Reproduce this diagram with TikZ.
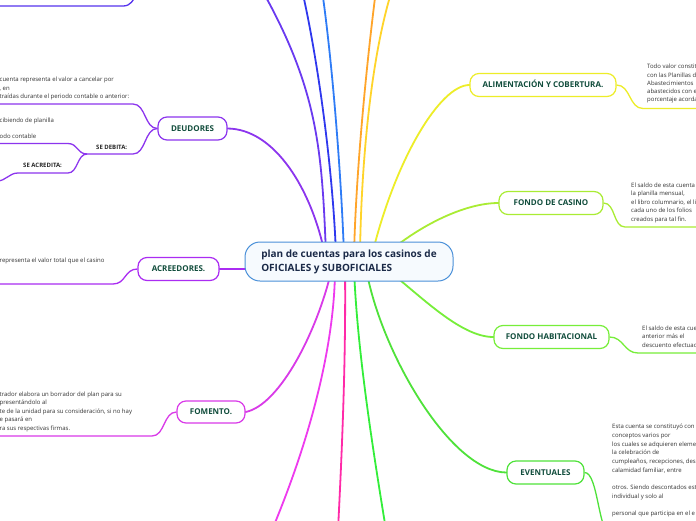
\documentclass[tikz,border=0pt]{standalone}
\usepackage{fontspec}
\setmainfont{Open Sans}
\usetikzlibrary{backgrounds}
\pgfdeclarelayer{bgzero}
\pgfsetlayers{bgzero,background,main}
\definecolor{rootblue}{HTML}{4A90D9}
\definecolor{rootfill}{HTML}{F6FAFE}
\definecolor{rootnavy}{HTML}{1B2A48}
\definecolor{lblgreen}{HTML}{114D3C}
\definecolor{notegray}{HTML}{333333}
\definecolor{deudcol}{HTML}{8C35EE}
\definecolor{acrecol}{HTML}{AA2CF2}
\definecolor{fomecol}{HTML}{D93AE8}
\definecolor{alimcol}{HTML}{EDED28}
\definecolor{casinocol}{HTML}{A9EC33}
\definecolor{habitcol}{HTML}{77EE3A}
\definecolor{eventcol}{HTML}{4FE23A}
\definecolor{toppurple}{HTML}{6A3AF0}
\definecolor{topblue}{HTML}{2F38EE}
\definecolor{toplblue}{HTML}{2F7CF6}
\definecolor{toporange}{HTML}{FFA52A}
\definecolor{topyellow}{HTML}{FFD42A}
\definecolor{tlchild}{HTML}{5533EE}
\definecolor{botmagenta}{HTML}{EE3AEE}
\definecolor{botpink}{HTML}{FF2AA8}
\definecolor{botgreen}{HTML}{33EE3A}
\begin{document}
\begin{tikzpicture}[x=1pt,y=-1pt,
  topic/.style={draw, fill=white, line width=1.2pt, rounded corners=9pt, inner sep=0pt,
    text height=5.8pt, text depth=0pt, font=\fontsize{8}{10}\selectfont\bfseries, text=lblgreen},
  note/.style={anchor=base west, inner sep=0pt, font=\fontsize{6}{7}\selectfont, text=notegray},
  sublbl/.style={anchor=base west, inner sep=0pt, font=\fontsize{6}{7}\selectfont\bfseries, text=black!85},
  conn/.style={line width=1.8pt, line cap=round},
  subline/.style={line width=1.3pt}]
\useasboundingbox (0,0) rectangle (696,520);
\begin{pgfonlayer}{bgzero}
\fill[white] (0,0) rectangle (696,520);
\end{pgfonlayer}

% root
\node[draw=rootblue, line width=1pt, fill=rootfill, rounded corners=15pt, minimum width=208pt,
  minimum height=39pt, align=left, inner sep=0pt, font=\fontsize{10}{14}\selectfont\bfseries,
  text=rootnavy] (root) at (349,261.5) {plan de cuentas para los casinos de\\OFICIALES y SUBOFICIALES};

% topics
\node[topic, draw=deudcol, minimum width=69pt, minimum height=23pt] (deud) at (192.5,128.5) {DEUDORES};
\node[topic, draw=acrecol, minimum width=81pt, minimum height=23pt] (acre) at (178.5,269) {ACREEDORES.};
\node[topic, draw=fomecol, minimum width=68pt, minimum height=22pt] (fome) at (211,412) {FOMENTO.};
\node[topic, draw=alimcol, minimum width=146pt, minimum height=23pt] (alim) at (543,85) {ALIMENTACIÓN Y COBERTURA.};
\node[topic, draw=casinocol, minimum width=104pt, minimum height=23pt] (casino) at (551,203) {FONDO DE CASINO};
\node[topic, draw=habitcol, minimum width=115pt, minimum height=23pt] (habit) at (551.5,337) {FONDO HABITACIONAL};
\node[topic, draw=eventcol, minimum width=77pt, minimum height=23pt] (event) at (545.5,472.5) {EVENTUALES};

% root-side coordinates
\coordinate (rdeud) at (325,255);
\coordinate (racre) at (270,269);
\coordinate (rfome) at (332,268);
\coordinate (rtp) at (326,255);   \coordinate (etp) at (262,-10);
\coordinate (rtb) at (336,255);   \coordinate (etb) at (302,-10);
\coordinate (rtl) at (344,255);   \coordinate (etl) at (322,-10);
\coordinate (rto) at (354,255);   \coordinate (eto) at (376,-10);
\coordinate (rty) at (360,255);   \coordinate (ety) at (392,-10);
\coordinate (ralim) at (372,255);
\coordinate (rcas) at (385,255);
\coordinate (rhab) at (385,268);
\coordinate (rev) at (366,268);
\coordinate (rbm) at (335,268);   \coordinate (ebm) at (272,530);
\coordinate (rbp) at (345,268);   \coordinate (ebp) at (338,530);
\coordinate (rbg) at (354,268);   \coordinate (ebg) at (386,530);

% child line coordinates
\coordinate (tl1) at (-5,6);     \coordinate (tl2) at (123,6);    \coordinate (tl3) at (137,-6);
\coordinate (d1a) at (-5,104);   \coordinate (d1b) at (133,104);
\coordinate (sd1) at (87,154);   \coordinate (sd2) at (133,154);
\coordinate (c1a) at (-5,143.5); \coordinate (c1b) at (68,143.5);
\coordinate (sa1) at (18,173);   \coordinate (sa2) at (68,173);
\coordinate (sa0) at (-3,181);
\coordinate (a1) at (-5,284);    \coordinate (a2) at (113,284);
\coordinate (f1) at (-5,436);    \coordinate (f2) at (152,436);
\coordinate (al1) at (643,108.5); \coordinate (al2) at (700,108.5);
\coordinate (ca1) at (625,227);   \coordinate (ca2) at (700,227);
\coordinate (ha1) at (638,353);   \coordinate (ha2) at (700,353);
\coordinate (ev1) at (612,536);   \coordinate (ev2) at (700,536);

\begin{pgfonlayer}{background}
% main connectors
\draw[conn, deudcol] (deud.east) .. controls (275,129) and (312,190) .. (rdeud);
\draw[conn, acrecol] (acre.east) -- (racre);
\draw[conn, fomecol] (fome.east) .. controls (280,405) and (318,330) .. (rfome);
\draw[conn, toppurple] (rtp) .. controls (322,150) and (318,90) .. (etp);
\draw[conn, topblue] (rtb) .. controls (333,170) and (318,60) .. (etb);
\draw[conn, toplblue] (rtl) .. controls (341,170) and (332,60) .. (etl);
\draw[conn, toporange] (rto) .. controls (356,170) and (367,60) .. (eto);
\draw[conn, topyellow] (rty) .. controls (361,170) and (370,60) .. (ety);
\draw[conn, alimcol] (ralim) .. controls (395,160) and (440,85) .. (alim.west);
\draw[conn, casinocol] (rcas) .. controls (420,225) and (465,203) .. (casino.west);
\draw[conn, habitcol] (rhab) .. controls (420,295) and (460,337) .. (habit.west);
\draw[conn, eventcol] (rev) .. controls (380,350) and (450,472) .. (event.west);
\draw[conn, botmagenta] (rbm) .. controls (335,330) and (318,420) .. (ebm);
\draw[conn, botpink] (rbp) .. controls (346,360) and (342,450) .. (ebp);
\draw[conn, botgreen] (rbg) .. controls (357,350) and (373,450) .. (ebg);
\end{pgfonlayer}

% child lines
\draw[subline, tlchild] (tl1) -- (tl2) .. controls +(8,0) and +(-4,6) .. (tl3);
\draw[subline, deudcol] (d1a) -- (d1b) .. controls +(13,0) and +(-13,0) .. (deud.west);
\draw[subline, deudcol] (sd1) -- (sd2) .. controls +(13,0) and +(-13,0) .. (deud.west);
\draw[subline, deudcol] (c1a) -- (c1b) .. controls +(10,0) and +(-10,0) .. (sd1);
\draw[subline, deudcol] (sa1) -- (sa2) .. controls +(10,0) and +(-10,0) .. (sd1);
\draw[subline, deudcol] (sa0) .. controls +(9,0) and +(-9,0) .. (sa1);
\draw[subline, acrecol] (a1) -- (a2) .. controls +(13,0) and +(-13,0) .. (acre.west);
\draw[subline, fomecol] (f1) -- (f2) .. controls +(13,0) and +(-13,0) .. (fome.west);
\draw[subline, alimcol] (alim.east) .. controls +(14,0) and +(-14,0) .. (al1) -- (al2);
\draw[subline, casinocol] (casino.east) .. controls +(12,0) and +(-12,0) .. (ca1) -- (ca2);
\draw[subline, habitcol] (habit.east) .. controls +(14,0) and +(-14,0) .. (ha1) -- (ha2);
\draw[subline, eventcol] (event.east) .. controls +(14,0) and +(-14,0) .. (ev1) -- (ev2);

% sub labels
\node[sublbl] (sedeb) at (96,149.5) {SE DEBITA:};
\node[sublbl] (seacr) at (23,167) {SE ACREDITA:};

% left notes
\node[note] (dn1) at (-0.5,81.3) {cuenta representa el valor a cancelar por};
\node[note] (dn2) at (-0.5,90) {, en};
\node[note] (dn3) at (-0.5,98.7) {traídas durante el periodo contable o anterior:};
\node[note] (sn1) at (-0.5,122) {cibiendo de planilla};
\node[note] (sn2) at (-0.5,138.7) {odo contable};
\node[note] (an1) at (-0.5,262) {representa el valor total que el casino};
\node[note] (fn1) at (-0.5,396.3) {trador elabora un borrador del plan para su};
\node[note] (fn2) at (-0.5,404.8) {presentándolo al};
\node[note] (fn3) at (-0.5,413.3) {te de la unidad para su consideración, si no hay};
\node[note] (fn4) at (-0.5,421.8) {e pasará en};
\node[note] (fn5) at (-0.5,430.3) {ra sus respectivas firmas.};

% right notes
\node[note] (al_1) at (647,68.7) {Todo valor constit};
\node[note] (al_2) at (647,77) {con las Planillas d};
\node[note] (al_3) at (647,85.3) {Abastecimientos};
\node[note] (al_4) at (647,93.6) {abastecidos con e};
\node[note] (al_5) at (647,101.9) {porcentaje acorda};
\node[note] (ca_1) at (631,187) {El saldo de esta cuenta};
\node[note] (ca_2) at (631,195.5) {la planilla mensual,};
\node[note] (ca_3) at (631,204) {el libro columnario, el li};
\node[note] (ca_4) at (631,212.5) {cada uno de los folios};
\node[note] (ca_5) at (631,221) {creados para tal fin.};
\node[note] (ha_1) at (642,330.3) {El saldo de esta cue};
\node[note] (ha_2) at (642,338.7) {anterior más el};
\node[note] (ha_3) at (642,347) {descuento efectuad};
\node[note] (ev_1) at (612,428.7) {Esta cuenta se constituyó con};
\node[note] (ev_2) at (612,437.4) {conceptos varios por};
\node[note] (ev_3) at (612,446) {los cuales se adquieren eleme};
\node[note] (ev_4) at (612,454.7) {la celebración de};
\node[note] (ev_5) at (612,463.4) {cumpleaños, recepciones, des};
\node[note] (ev_6) at (612,472) {calamidad familiar, entre};
\node[note] (ev_7) at (612,489.4) {otros. Siendo descontados est};
\node[note] (ev_8) at (612,498) {individual y solo al};
\node[note] (ev_9) at (612,515.4) {personal que participa en el e};
\end{tikzpicture}
\end{document}
